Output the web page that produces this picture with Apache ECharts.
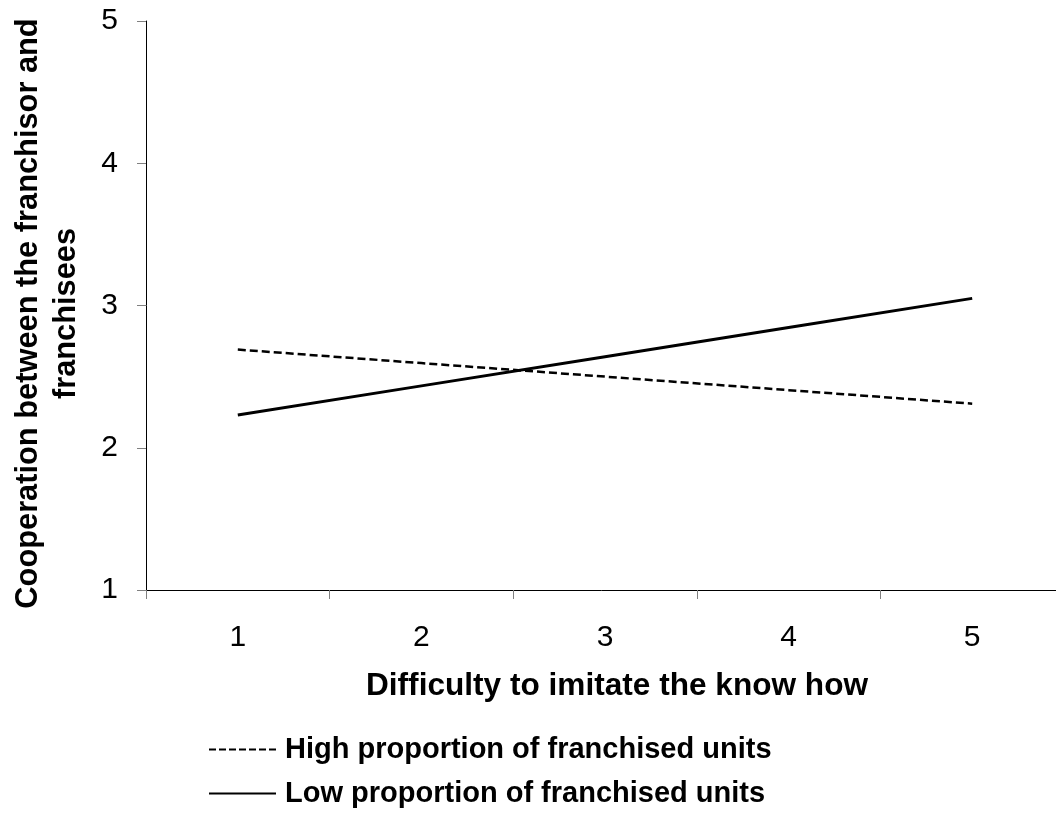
<!DOCTYPE html>
<html>
<head>
<meta charset="utf-8">
<script src="https://cdn.jsdelivr.net/npm/echarts@6/dist/echarts.min.js"></script>
<style>html,body{margin:0;padding:0;background:#fff}#c{width:1056px;height:816px}</style>
</head>
<body>
<div id="c"></div>
<script>
const categories = ['1', '2', '3', '4', '5'];
const highValues = [2.69, 2.595, 2.50, 2.405, 2.31];
const lowValues = [2.23, 2.435, 2.64, 2.845, 3.05];
const seriesNames = ['High proportion of franchised units', 'Low proportion of franchised units'];
const xTitle = 'Difficulty to imitate the know how';
const yTitle = 'Cooperation between the franchisor and\nfranchisees';

const FONT = '"Liberation Sans", Arial, sans-serif';
const chart = echarts.init(document.getElementById('c'), null, {renderer: 'canvas'});
chart.setOption({
  animation: false,
  backgroundColor: '#ffffff',
  textStyle: {fontFamily: FONT, color: '#000'},
  grid: {left: 146, right: -8, top: 21, bottom: 226, containLabel: false, outerBoundsMode: 'none'},
  legend: {
    orient: 'vertical',
    left: 208,
    top: 735,
    padding: 0,
    itemWidth: 67,
    itemHeight: 30,
    itemGap: 15,
    textStyle: {fontFamily: FONT, fontSize: 29, fontWeight: 'bold', color: '#000', padding: [0, 0, 0, 4]},
    data: [
      {name: seriesNames[0], itemStyle: {opacity: 0}, lineStyle: {width: 2, type: [7, 3], color: '#000', opacity: 1}},
      {name: seriesNames[1], itemStyle: {opacity: 0}, lineStyle: {width: 2, type: 'solid', color: '#000', opacity: 1}}
    ]
  },
  xAxis: {
    type: 'category',
    data: categories,
    boundaryGap: true,
    name: xTitle,
    nameLocation: 'middle',
    nameGap: 80,
    nameTextStyle: {fontFamily: FONT, fontSize: 31.6, fontWeight: 'bold', color: '#000', padding: [0, 0, 0, 24]},
    axisLine: {lineStyle: {color: '#000', width: 1}},
    axisTick: {show: true, length: 9, lineStyle: {color: '#808080', width: 1}},
    axisLabel: {fontFamily: FONT, fontSize: 30, color: '#000', margin: 33},
    splitLine: {show: false}
  },
  yAxis: {
    type: 'value',
    min: 1, max: 5, interval: 1,
    name: yTitle,
    nameLocation: 'middle',
    nameRotate: 90,
    nameGap: 60,
    nameTextStyle: {fontFamily: FONT, fontSize: 30.8, fontWeight: 'bold', color: '#000', lineHeight: 38, align: 'center', padding: [0, 16, 0, 0]},
    axisLine: {show: true, lineStyle: {color: '#000', width: 1}},
    axisTick: {show: true, length: 9, lineStyle: {color: '#808080', width: 1}},
    axisLabel: {fontFamily: FONT, fontSize: 30, color: '#000', margin: 28},
    splitLine: {show: false}
  },
  series: [
    {
      name: seriesNames[0], type: 'line', data: highValues,
      symbol: 'none', lineStyle: {color: '#000', width: 2.5, type: [8, 4]},
      itemStyle: {color: '#000'}
    },
    {
      name: seriesNames[1], type: 'line', data: lowValues,
      symbol: 'none', lineStyle: {color: '#000', width: 3, type: 'solid'},
      itemStyle: {color: '#000'}
    }
  ]
});
</script>
</body>
</html>
